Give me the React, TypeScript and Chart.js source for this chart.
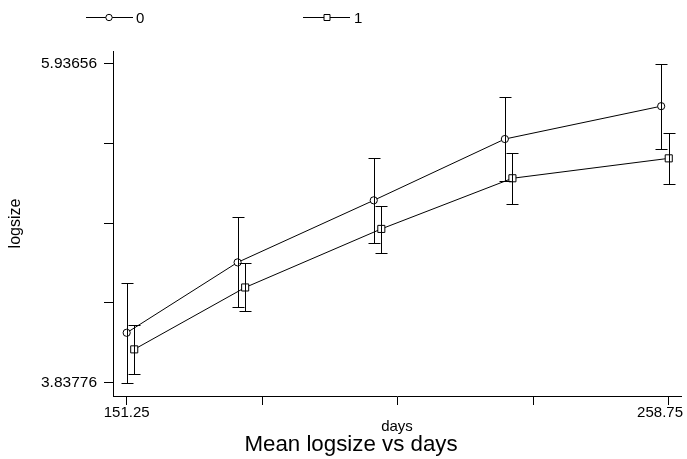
import React, { useEffect, useRef } from 'react';
import { Chart, registerables } from 'chart.js';

Chart.register(...registerables);

// ---- Data ----
const seriesNames = ['0', '1'];
const xSeries0 = [151.25, 173.25, 200.25, 226.25, 257.25];
const xSeries1 = [152.75, 174.75, 201.75, 227.75, 258.75];
const mean0 = [4.166, 4.629, 5.037, 5.44, 5.656];
const lower0 = [3.83776, 4.333, 4.758, 5.164, 5.374];
const upper0 = [4.491, 4.925, 5.313, 5.718, 5.93656];
const mean1 = [4.057, 4.464, 4.849, 5.182, 5.313];
const lower1 = [3.895, 4.307, 4.692, 5.013, 5.144];
const upper1 = [4.217, 4.623, 5.001, 5.35, 5.481];

const xTickValues = [151.25, 178.125, 205, 231.875, 258.75];
const xTickLabels = ['151.25', '', '', '', '258.75'];
const yTickValues = [3.83776, 4.36246, 4.88716, 5.41186, 5.93656];
const yTickLabels = ['3.83776', '', '', '', '5.93656'];

const xTitle = 'days';
const yTitle = 'logsize';
const chartTitle = 'Mean logsize vs days';

const FONT = '"Liberation Sans", Arial, Helvetica, sans-serif';

const errorBarSets = [
  { xs: xSeries0, lo: lower0, hi: upper0 },
  { xs: xSeries1, lo: lower1, hi: upper1 },
];

const errorBarPlugin = {
  id: 'errorBars',
  afterDatasetsDraw(chart: any) {
    const { ctx, scales } = chart;
    const x = scales.x;
    const y = scales.y;
    ctx.save();
    ctx.strokeStyle = '#000';
    ctx.lineWidth = 1;
    errorBarSets.forEach((set) => {
      set.xs.forEach((xv, i) => {
        const px = Math.round(x.getPixelForValue(xv)) + 0.5;
        const pl = Math.round(y.getPixelForValue(set.lo[i])) + 0.5;
        const ph = Math.round(y.getPixelForValue(set.hi[i])) + 0.5;
        ctx.beginPath();
        ctx.moveTo(px, pl);
        ctx.lineTo(px, ph);
        ctx.moveTo(px - 6, pl);
        ctx.lineTo(px + 6, pl);
        ctx.moveTo(px - 6, ph);
        ctx.lineTo(px + 6, ph);
        ctx.stroke();
      });
    });
    ctx.restore();
  },
};

// keep the last x tick label inside the canvas (as in the reference)
const clampLabelPlugin = {
  id: 'clampLastXLabel',
  beforeDraw(chart: any) {
    const s = chart.scales.x;
    if (!s || !s.getLabelItems) return;
    const items = s.getLabelItems(chart.chartArea);
    if (!items || !items.length) return;
    const last = items[items.length - 1];
    if (last && last.options && last.options.translation) {
      last.options.textAlign = 'right';
      last.options.translation[0] = chart.width - 4;
    }
  },
};

const legendTitlePlugin = {
  id: 'customLegendTitle',
  afterDraw(chart: any) {
    const { ctx } = chart;
    ctx.save();
    ctx.strokeStyle = '#000';
    ctx.fillStyle = '#000';
    ctx.lineWidth = 1;
    const items = [
      { x0: 86, x1: 133, mx: 109, tx: 136, style: 'circle' },
      { x0: 303, x1: 350, mx: 327, tx: 354, style: 'rect' },
    ];
    const ly = 17.5;
    items.forEach((it, i) => {
      ctx.beginPath();
      ctx.moveTo(it.x0, ly);
      ctx.lineTo(it.x1, ly);
      ctx.stroke();
      ctx.fillStyle = '#fff';
      ctx.beginPath();
      if (it.style === 'circle') {
        ctx.arc(it.mx, ly, 3.2, 0, Math.PI * 2);
      } else {
        ctx.rect(it.mx - 3, ly - 3, 6, 6);
      }
      ctx.fill();
      ctx.stroke();
      ctx.fillStyle = '#000';
      ctx.font = `15px ${FONT}`;
      ctx.textAlign = 'left';
      ctx.textBaseline = 'middle';
      ctx.fillText(seriesNames[i], it.tx, ly + 1);
    });
    ctx.font = `22.3px ${FONT}`;
    ctx.textAlign = 'center';
    ctx.textBaseline = 'middle';
    ctx.fillText(chartTitle, 351, 445);
    ctx.restore();
  },
};

export default function App() {
  const canvasRef = useRef<HTMLCanvasElement | null>(null);

  useEffect(() => {
    if (!canvasRef.current) return;
    const chart = new Chart(canvasRef.current, {
      type: 'line',
      data: {
        datasets: [
          {
            label: seriesNames[0],
            data: xSeries0.map((xv, i) => ({ x: xv, y: mean0[i] })),
            borderColor: '#000',
            borderWidth: 1,
            pointStyle: 'circle',
            pointRadius: 3.6,
            pointBorderWidth: 1,
            pointBorderColor: '#000',
            pointBackgroundColor: '#fff',
            tension: 0,
          },
          {
            label: seriesNames[1],
            data: xSeries1.map((xv, i) => ({ x: xv, y: mean1[i] })),
            borderColor: '#000',
            borderWidth: 1,
            pointStyle: 'rect',
            pointRadius: 5,
            pointBorderWidth: 1,
            pointBorderColor: '#000',
            pointBackgroundColor: '#fff',
            tension: 0,
          },
        ],
      },
      options: {
        responsive: false,
        animation: false,
        devicePixelRatio: 1,
        layout: { padding: { top: 51, right: 4, left: 0, bottom: 0 } },
        plugins: {
          legend: { display: false },
          title: { display: false },
          tooltip: { enabled: false },
        },
        scales: {
          x: {
            type: 'linear',
            min: 148.54,
            max: 261.18,
            afterBuildTicks: (scale: any) => {
              scale.ticks = xTickValues.map((v) => ({ value: v }));
            },
            afterFit: (scale: any) => {
              scale.height = 63;
              scale.paddingLeft = 0;
              scale.paddingRight = 0;
            },
            ticks: {
              autoSkip: false,
              maxRotation: 0,
              minRotation: 0,
              padding: -1,
              color: '#000',
              font: { family: FONT, size: 15 },
              callback: (_v: any, i: number) => xTickLabels[i],
            },
            grid: {
              display: true,
              drawOnChartArea: false,
              drawTicks: true,
              tickLength: 9,
              tickColor: '#000',
              tickWidth: 1,
            },
            border: { display: true, color: '#000', width: 1 },
            title: {
              display: true,
              text: xTitle,
              color: '#000',
              font: { family: FONT, size: 15 },
              padding: { top: 0, bottom: 23 },
            },
          },
          y: {
            type: 'linear',
            min: 3.7504,
            max: 6.0188,
            afterBuildTicks: (scale: any) => {
              scale.ticks = yTickValues.map((v) => ({ value: v }));
            },
            afterFit: (scale: any) => {
              scale.width = 113;
              scale.paddingTop = 0;
              scale.paddingBottom = 0;
            },
            ticks: {
              autoSkip: false,
              padding: 7,
              color: '#000',
              font: { family: FONT, size: 15.5 },
              callback: (_v: any, i: number) => yTickLabels[i],
            },
            grid: {
              display: true,
              drawOnChartArea: false,
              drawTicks: true,
              tickLength: 9,
              tickColor: '#000',
              tickWidth: 1,
            },
            border: { display: true, color: '#000', width: 1 },
            title: {
              display: true,
              text: yTitle,
              color: '#000',
              font: { family: FONT, size: 16 },
              padding: { top: 6, bottom: 0 },
            },
          },
        },
      },
      plugins: [errorBarPlugin, clampLabelPlugin, legendTitlePlugin],
    });
    return () => chart.destroy();
  }, []);

  return (
    <div style={{ position: 'fixed', left: 0, top: 0, width: 687, height: 459, background: '#fff' }}>
      <canvas ref={canvasRef} width={687} height={459} style={{ display: 'block' }} />
    </div>
  );
}
